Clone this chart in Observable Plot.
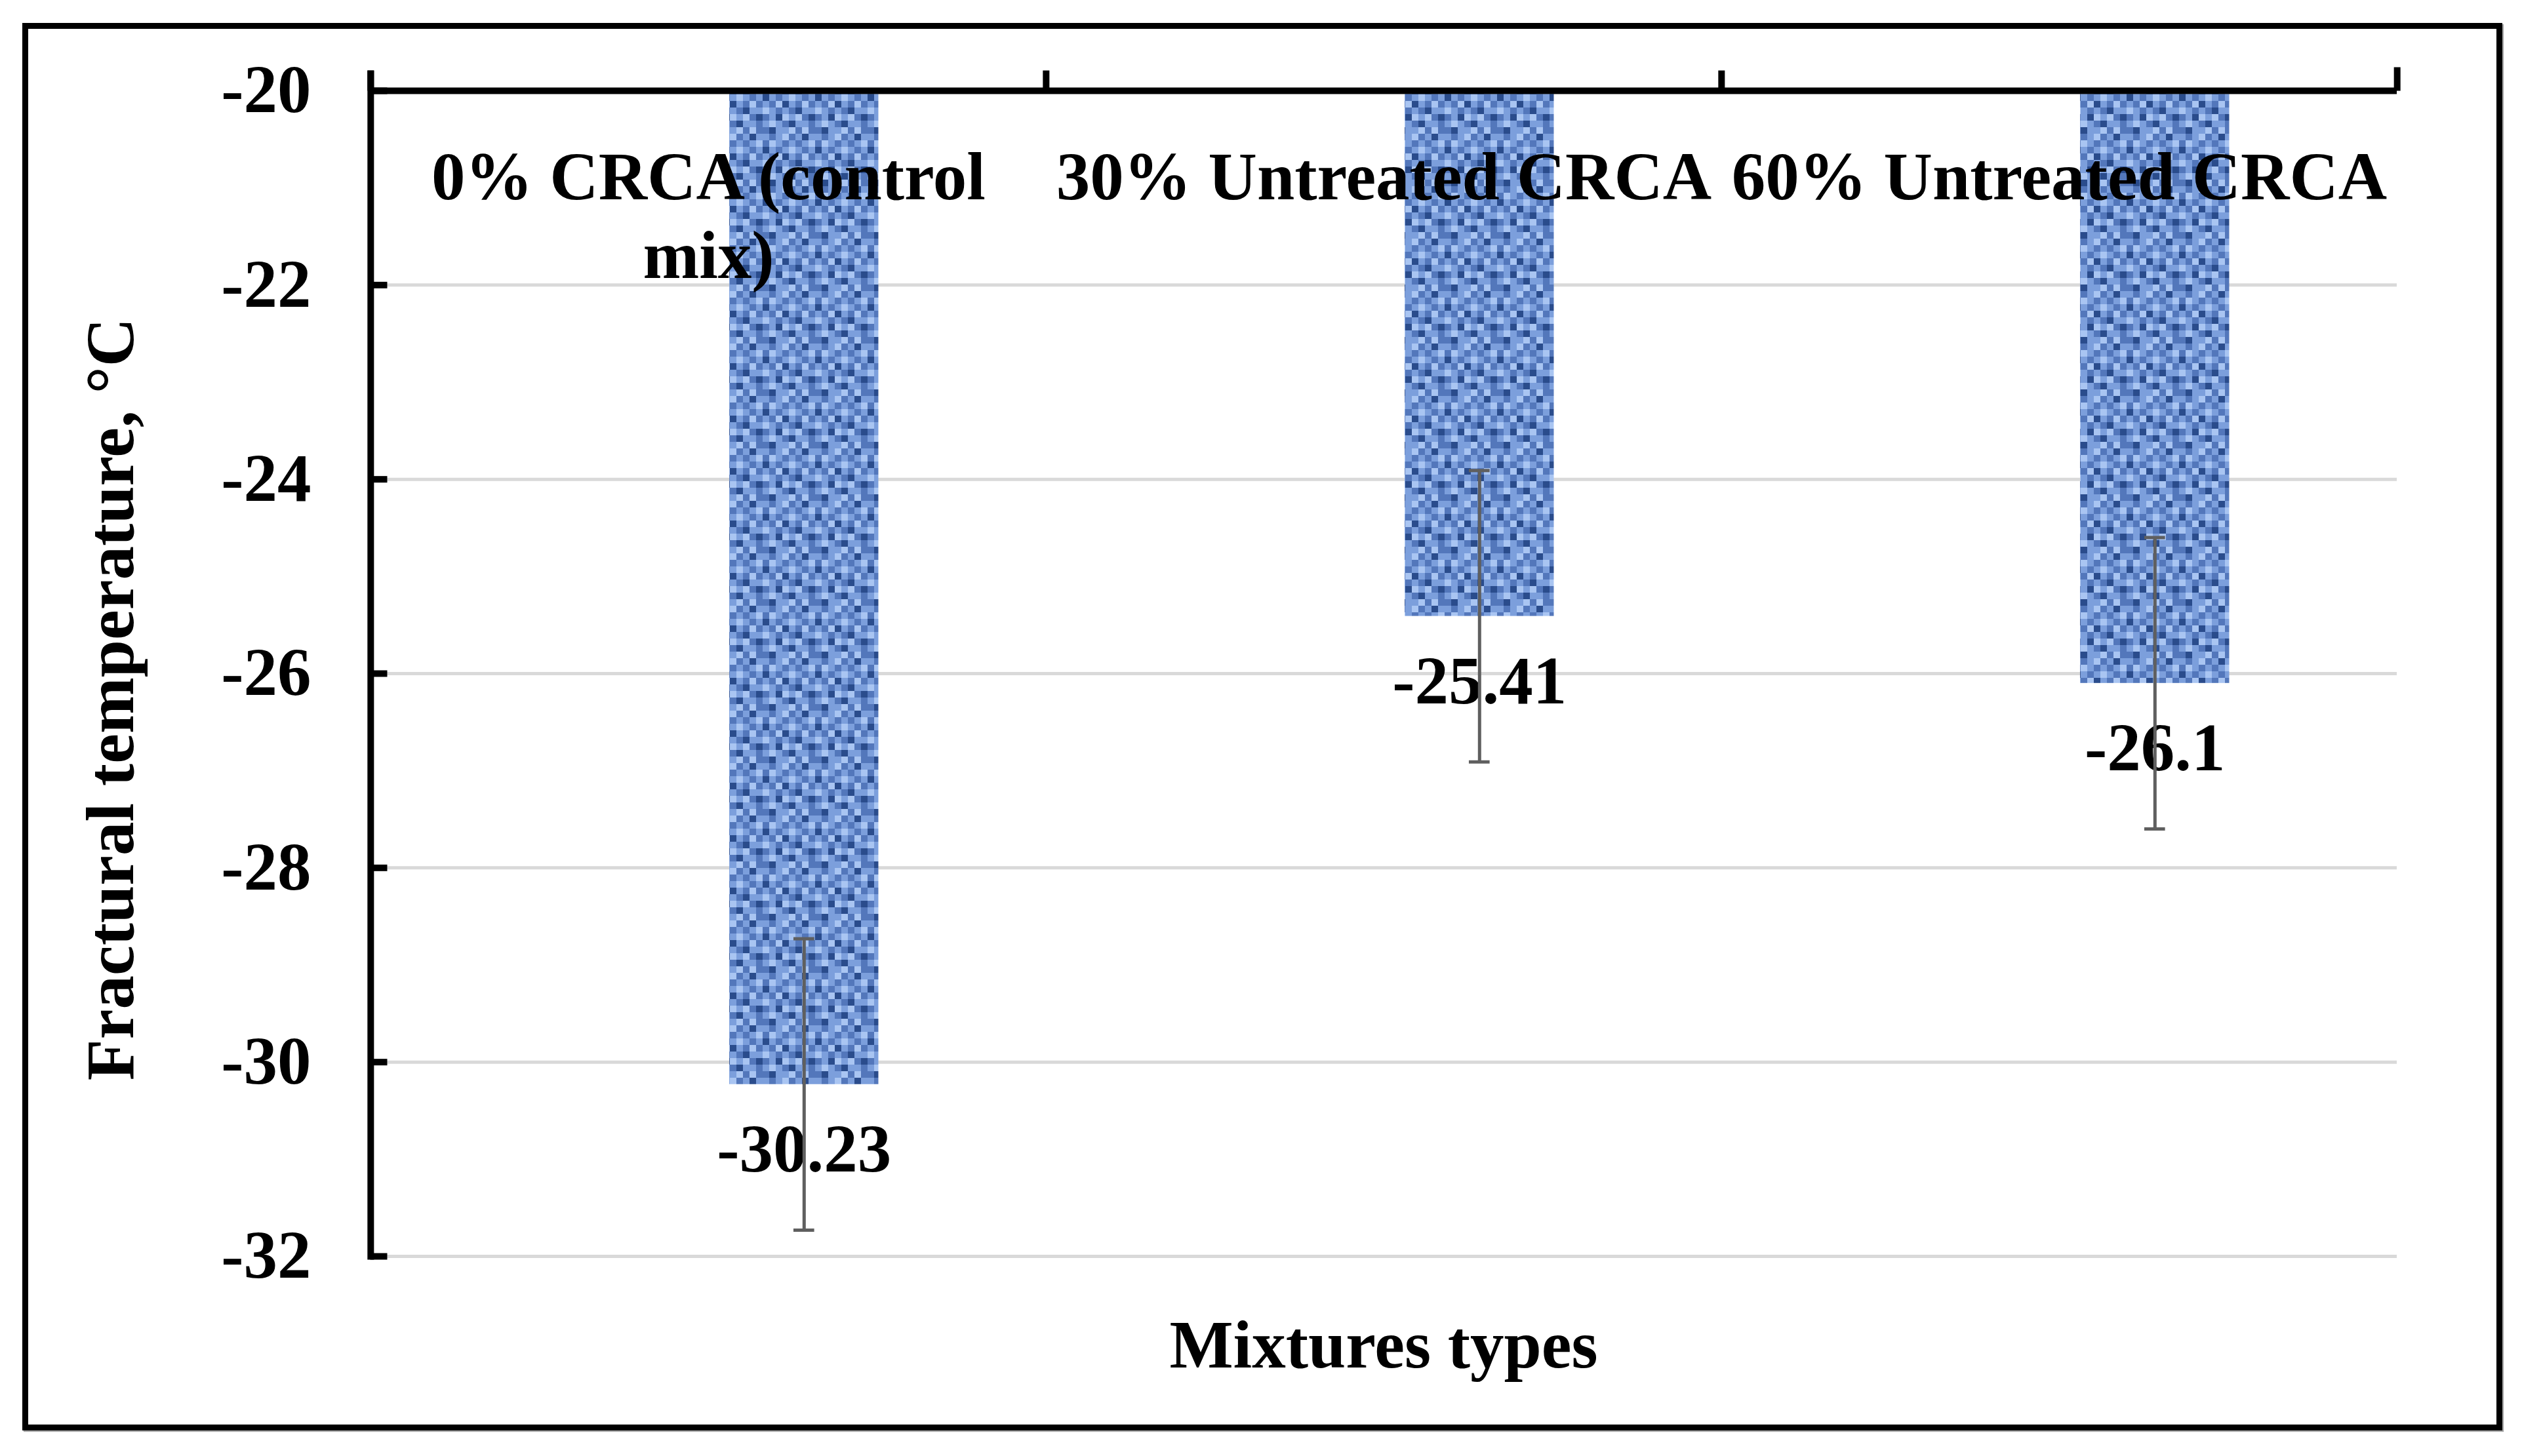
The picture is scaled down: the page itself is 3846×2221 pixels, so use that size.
<!DOCTYPE html>
<html>
<head>
<meta charset="utf-8">
<script src="https://cdn.jsdelivr.net/npm/d3@7"></script>
<script src="https://cdn.jsdelivr.net/npm/@observablehq/plot@0.6"></script>
<style>
  html, body { margin: 0; padding: 0; background: #ffffff; }
  body { width: 3846px; height: 2221px; position: relative; overflow: hidden; }
  #box {
    position: absolute; left: 34px; top: 35px;
    border: 9px solid #000; background: #fff;
    box-shadow: 2px 2px 1px rgba(0,0,0,0.35);
  }
</style>
</head>
<body>
<div id="box"></div>
<script>
// ---- data ----
const categories = ["0% CRCA (control mix)", "30% Untreated CRCA", "60% Untreated CRCA"];
const tickLabels = ["0% CRCA (control\nmix)", "30% Untreated CRCA", "60% Untreated CRCA"];
const values = [-30.23, -25.41, -26.1];
const errors = [1.5, 1.5, 1.5];
const valueLabels = ["-30.23", "-25.41", "-26.1"];
const yTicks = [-20, -22, -24, -26, -28, -30, -32];
const gridTicks = [-22, -24, -26, -28, -30, -32];
const yDomain = [-32, -20];
const yTitle = ["Fractural temperature, °C"];
const xTitle = ["Mixtures types"];

const rows = categories.map((c, i) => ({cat: c, label: tickLabels[i], value: values[i], err: errors[i], text: valueLabels[i]}));

// ---- layout ----
const W = 3764, H = 2129;
const mL = 521, mT = 94, mR = 152, mB = 257;
const bw = (W - mL - mR) / categories.length;
const barOffset = 0.1415 * bw;      // bar centre offset from category centre
const capHalf = 16;
const font = "Liberation Serif, Times New Roman, serif";
const fs = 103;
const yTop = yDomain[1];

const lineShape = {draw(context, l) { context.moveTo(0, 0); context.lineTo(0, -l); }};

const chart = Plot.plot({
  width: W, height: H,
  marginLeft: mL, marginTop: mT, marginRight: mR, marginBottom: mB,
  style: {fontFamily: font, fontWeight: "bold", background: "transparent", overflow: "visible"},
  x: {type: "band", domain: categories, padding: 0, axis: null},
  y: {domain: yDomain},
  marks: [
    Plot.ruleY(gridTicks, {stroke: "#d9d9d9", strokeWidth: 5}),
    Plot.barY(rows, {x: "cat", y1: () => yTop, y2: "value", fill: "url(#weave)",
      insetLeft: 0.531 * bw, insetRight: 0.248 * bw}),
    Plot.text(rows, {x: "cat", y: "value", text: "text", dx: barOffset, dy: 100,
      fontSize: fs, fontWeight: "bold", fill: "#000", lineAnchor: "middle"}),
    Plot.ruleX(rows, {x: "cat", y1: d => d.value - d.err, y2: d => d.value + d.err,
      dx: barOffset, stroke: "#5f5f5f", strokeWidth: 5}),
    Plot.tickY(rows, {x: "cat", y: d => d.value + d.err, stroke: "#5f5f5f", strokeWidth: 5,
      insetLeft: bw / 2 + barOffset - capHalf, insetRight: bw / 2 - barOffset - capHalf}),
    Plot.tickY(rows, {x: "cat", y: d => d.value - d.err, stroke: "#5f5f5f", strokeWidth: 5,
      insetLeft: bw / 2 + barOffset - capHalf, insetRight: bw / 2 - barOffset - capHalf}),
    // top category axis line at y = -20
    Plot.ruleY([yTop], {stroke: "#000", strokeWidth: 10}),
    // top ticks between categories
    Plot.vector(categories, {x: d => d, dx: -bw / 2, frameAnchor: "top", rotate: 0, length: 31,
      anchor: "start", shape: lineShape, stroke: "#000", strokeWidth: 10, strokeLinecap: "butt"}),
    Plot.vector(categories.slice(-1), {x: d => d, dx: bw / 2, frameAnchor: "top", rotate: 0, length: 36,
      anchor: "start", shape: lineShape, stroke: "#000", strokeWidth: 10, strokeLinecap: "butt"}),
    // left value axis line
    Plot.vector(categories.slice(0, 1), {x: d => d, dx: -bw / 2, frameAnchor: "bottom", rotate: 0,
      length: (H - mT - mB) + 31 + 5, dy: 5, anchor: "start", shape: lineShape,
      stroke: "#000", strokeWidth: 10, strokeLinecap: "butt"}),
    // inward y ticks
    Plot.vector(yTicks, {y: d => d, frameAnchor: "left", rotate: 90, length: 26, anchor: "start",
      shape: lineShape, stroke: "#000", strokeWidth: 10, strokeLinecap: "butt"}),
    Plot.axisY(yTicks, {anchor: "left", tickSize: 0, tickPadding: 90, fontSize: fs,
      fontWeight: "bold", tickFormat: d => String(d), label: null, fill: "#000"}),
    // category labels under the top axis
    Plot.text(rows, {x: "cat", text: "label", frameAnchor: "top", dy: 81, lineAnchor: "top",
      lineHeight: 1.16, fontSize: fs, fontWeight: "bold", fill: "#000", textAnchor: "middle"}),
    // axis titles
    Plot.text(yTitle, {text: d => d, frameAnchor: "left", rotate: -90, dx: -394, dy: 39,
      textAnchor: "middle", fontSize: fs, fontWeight: "bold", fill: "#000", lineAnchor: "middle"}),
    Plot.text(xTitle, {text: d => d, frameAnchor: "bottom", dy: 96, lineAnchor: "top",
      textAnchor: "middle", fontSize: fs, fontWeight: "bold", fill: "#000"})
  ]
});

// woven blue texture for the bars
const shades = ["#2a4c8c", "#5377bb", "#7c9fdc", "#a9c5f2"];
const weave = [
  [2,1,2,3,1,2,0,2],
  [1,3,2,1,2,1,2,3],
  [0,2,1,2,3,2,1,2],
  [2,1,3,0,2,1,3,1],
  [3,2,1,2,1,0,2,2],
  [1,2,0,3,2,3,1,0],
  [2,3,2,1,0,2,2,1],
  [1,0,2,2,3,1,3,1]
];
const cell = 10;
const defs = d3.select(chart).insert("defs", ":first-child");
const pat = defs.append("pattern").attr("id", "weave").attr("patternUnits", "userSpaceOnUse")
  .attr("width", cell * 8).attr("height", cell * 8);
pat.append("rect").attr("width", cell * 8).attr("height", cell * 8).attr("fill", "#5f83c5");
weave.forEach((row, r) => row.forEach((v, c) => {
  pat.append("rect").attr("x", c * cell).attr("y", r * cell).attr("width", cell).attr("height", cell)
    .attr("fill", shades[v]);
}));

const box = document.getElementById("box");
box.style.width = W + "px";
box.style.height = H + "px";
box.appendChild(chart);
</script>
</body>
</html>
